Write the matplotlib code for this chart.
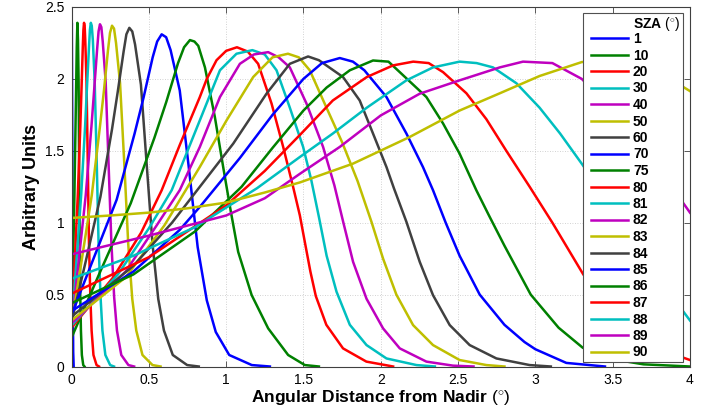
"""Recreate the SZA angular-distance profile chart."""

import matplotlib

matplotlib.use("Agg")
import matplotlib.pyplot as plt
from matplotlib.patches import Rectangle

plt.rcParams["font.family"] = ["Liberation Sans", "DejaVu Sans"]
plt.rcParams["mathtext.fontset"] = "custom"
plt.rcParams["mathtext.rm"] = "Liberation Sans"

SZA_LABELS = ["1", "10", "20", "30", "40", "50", "60", "70", "75", "80",
              "81", "82", "83", "84", "85", "86", "87", "88", "89", "90"]

# curves, x = angular distance, y = arbitrary units
x_sza01 = [0, 0.002, 0.005, 0.008, 0.011, 0.014]
y_sza01 = [2.2, 2.39, 1.6, 0.6, 0.1, 0.0]
x_sza10 = [0, 0.019, 0.030, 0.034, 0.038, 0.042, 0.046, 0.049, 0.053, 0.057, 0.061, 0.067, 0.076, 0.084]
y_sza10 = [0.18, 1.20, 1.94, 2.22, 2.39, 2.27, 1.98, 1.43, 0.86, 0.48, 0.25, 0.08, 0.01, 0.0]
x_sza20 = [0, 0.020, 0.041, 0.057, 0.065, 0.073, 0.077, 0.081, 0.085, 0.089, 0.097, 0.105, 0.113,
           0.122, 0.130, 0.142, 0.162, 0.178]
y_sza20 = [0.22, 0.71, 1.20, 1.67, 1.94, 2.22, 2.34, 2.39, 2.37, 2.27, 1.98, 1.43, 0.86,
           0.48, 0.25, 0.08, 0.01, 0.0]
x_sza30 = [0, 0.031, 0.063, 0.088, 0.100, 0.113, 0.119, 0.125, 0.131, 0.138, 0.150, 0.163, 0.175,
           0.188, 0.200, 0.219, 0.250, 0.275]
y_sza30 = [0.25, 0.72, 1.20, 1.67, 1.94, 2.22, 2.34, 2.39, 2.37, 2.27, 1.98, 1.43, 0.86,
           0.48, 0.25, 0.08, 0.01, 0.0]
x_sza40 = [0, 0.046, 0.092, 0.129, 0.147, 0.166, 0.175, 0.184, 0.193, 0.202, 0.221, 0.239, 0.258,
           0.276, 0.294, 0.322, 0.368, 0.405]
y_sza40 = [0.27, 0.73, 1.19, 1.67, 1.93, 2.21, 2.33, 2.38, 2.36, 2.26, 1.98, 1.43, 0.86,
           0.48, 0.25, 0.08, 0.01, 0.0]
x_sza50 = [0, 0.066, 0.131, 0.183, 0.210, 0.236, 0.249, 0.262, 0.275, 0.288, 0.314, 0.341, 0.367,
           0.393, 0.419, 0.459, 0.524, 0.576]
y_sza50 = [0.29, 0.74, 1.19, 1.66, 1.92, 2.20, 2.32, 2.37, 2.35, 2.25, 1.97, 1.42, 0.85,
           0.47, 0.25, 0.08, 0.01, 0.0]
x_sza60 = [0, 0.094, 0.187, 0.262, 0.299, 0.337, 0.355, 0.374, 0.393, 0.411, 0.449, 0.486, 0.524,
           0.561, 0.598, 0.655, 0.748, 0.823]
y_sza60 = [0.31, 0.74, 1.18, 1.65, 1.91, 2.19, 2.31, 2.355, 2.33, 2.24, 1.96, 1.41, 0.85,
           0.47, 0.25, 0.08, 0.01, 0.0]
x_sza70 = [0, 0.146, 0.292, 0.408, 0.466, 0.525, 0.554, 0.583, 0.612, 0.641, 0.700, 0.758, 0.816,
           0.875, 0.933, 1.020, 1.166, 1.283]
y_sza70 = [0.36, 0.76, 1.16, 1.62, 1.87, 2.15, 2.26, 2.31, 2.29, 2.20, 1.92, 1.39, 0.83,
           0.46, 0.24, 0.08, 0.01, 0.0]
x_sza75 = [0, 0.19, 0.383, 0.536, 0.613, 0.689, 0.728, 0.766, 0.795, 0.82, 0.863, 0.927, 0.981, 1.03,
           1.078, 1.165, 1.272, 1.401, 1.509, 1.6]
y_sza75 = [0.20, 0.67, 1.135, 1.59, 1.84, 2.11, 2.22, 2.27, 2.26, 2.23, 2.08, 1.736, 1.387, 1.08,
           0.797, 0.497, 0.265, 0.08, 0.01, 0.0]
x_sza80 = [0, 0.27, 0.45, 0.583, 0.70, 0.83, 0.875, 0.938, 1.0, 1.07, 1.14, 1.207, 1.294, 1.369, 1.433,
           1.477, 1.51, 1.545, 1.58, 1.648, 1.756, 1.907, 2.08]
y_sza80 = [0.27, 0.62, 0.93, 1.225, 1.54, 1.874, 2.0, 2.13, 2.195, 2.22, 2.19, 2.105, 1.828, 1.527, 1.25,
           1.05, 0.86, 0.66, 0.49, 0.29, 0.126, 0.034, 0.0]
x_sza81 = [0, 0.3, 0.5, 0.648, 0.83, 0.96, 1.067, 1.17, 1.25, 1.326, 1.412, 1.498, 1.55, 1.60, 1.65,
           1.714, 1.8, 1.908, 2.037, 2.231, 2.35]
y_sza81 = [0.285, 0.64, 0.96, 1.226, 1.712, 2.06, 2.175, 2.20, 2.17, 2.06, 1.80, 1.527, 1.30, 1.04, 0.77,
           0.52, 0.29, 0.149, 0.056, 0.01, 0.0]
x_sza82 = [0, 0.35, 0.55, 0.70, 0.83, 0.96, 1.089, 1.18, 1.272, 1.34, 1.412, 1.52, 1.627, 1.70, 1.757,
           1.821, 1.908, 2.015, 2.123, 2.295, 2.467, 2.6]
y_sza82 = [0.30, 0.66, 0.98, 1.226, 1.527, 1.874, 2.105, 2.17, 2.186, 2.15, 2.08, 1.828, 1.527, 1.26,
           1.006, 0.728, 0.471, 0.265, 0.126, 0.034, 0.006, 0.0]
x_sza83 = [0, 0.35, 0.6, 0.83, 1.003, 1.175, 1.30, 1.40, 1.47, 1.541, 1.649, 1.75, 1.85, 1.94, 2.015,
           2.101, 2.209, 2.338, 2.51, 2.683, 2.8]
y_sza83 = [0.32, 0.62, 0.98, 1.388, 1.712, 2.013, 2.15, 2.175, 2.15, 2.06, 1.80, 1.56, 1.29, 1.006, 0.75,
           0.50, 0.288, 0.149, 0.045, 0.01, 0.0]
x_sza84 = [0, 0.4, 0.65, 0.83, 1.046, 1.261, 1.412, 1.53, 1.60, 1.756, 1.864, 1.95, 2.037, 2.085, 2.166,
           2.252, 2.338, 2.446, 2.575, 2.748, 2.963, 3.1]
y_sza84 = [0.346, 0.70, 1.0, 1.25, 1.55, 1.897, 2.105, 2.156, 2.13, 2.013, 1.85, 1.62, 1.387, 1.24, 1.006,
           0.728, 0.496, 0.288, 0.149, 0.056, 0.01, 0.0]
x_sza85 = [0, 0.4, 0.7, 0.83, 1.089, 1.3, 1.5, 1.62, 1.735, 1.82, 1.894, 2.037, 2.166, 2.273, 2.338,
           2.42, 2.51, 2.64, 2.80, 2.93, 3.0, 3.2, 3.45]
y_sza85 = [0.385, 0.66, 0.95, 1.11, 1.45, 1.75, 2.0, 2.11, 2.145, 2.12, 2.06, 1.874, 1.62, 1.387, 1.226,
           1.0, 0.77, 0.5, 0.29, 0.17, 0.12, 0.025, 0.0]
x_sza86 = [0, 0.4, 0.8, 1.1, 1.3, 1.5, 1.65, 1.8, 1.95, 2.05, 2.123, 2.295, 2.403, 2.51, 2.618, 2.70,
           2.80, 2.97, 3.15, 3.307, 3.5, 3.7, 4.0]
y_sza86 = [0.44, 0.64, 0.94, 1.25, 1.52, 1.78, 1.94, 2.06, 2.128, 2.12, 2.047, 1.874, 1.69, 1.48, 1.226,
           1.05, 0.84, 0.5, 0.27, 0.13, 0.05, 0.015, 0.0]
x_sza87 = [0, 0.5, 1.0, 1.25, 1.477, 1.69, 1.91, 2.08, 2.21, 2.31, 2.403, 2.554, 2.683, 2.812, 2.963,
           3.11, 3.31, 3.5, 3.75, 4.0]
y_sza87 = [0.506, 0.76, 1.12, 1.36, 1.61, 1.85, 2.013, 2.094, 2.12, 2.11, 2.047, 1.90, 1.72, 1.50, 1.25,
           1.0, 0.64, 0.37, 0.14, 0.045]
x_sza88 = [0, 0.4, 0.8, 1.2, 1.477, 1.69, 1.91, 2.166, 2.338, 2.51, 2.62, 2.726, 2.877, 3.027, 3.16,
           3.3, 3.5, 3.75, 4.0]
y_sza88 = [0.61, 0.77, 0.97, 1.24, 1.457, 1.62, 1.80, 1.99, 2.08, 2.12, 2.11, 2.08, 1.97, 1.80, 1.62,
           1.41, 1.10, 0.68, 0.32]
x_sza89 = [0, 0.5, 1.0, 1.25, 1.477, 1.735, 2.0, 2.252, 2.51, 2.77, 2.92, 3.11, 3.3, 3.5, 3.75, 4.0]
y_sza89 = [0.78, 0.91, 1.05, 1.17, 1.34, 1.527, 1.746, 1.897, 1.99, 2.08, 2.12, 2.11, 2.0, 1.78, 1.45, 1.07]
x_sza90 = [0, 0.25, 0.5, 0.75, 1.0, 1.25, 1.477, 1.821, 2.187, 2.51, 2.77, 3.027, 3.3, 3.5, 3.75, 4.0]
y_sza90 = [1.033, 1.05, 1.07, 1.10, 1.14, 1.21, 1.28, 1.411, 1.596, 1.78, 1.90, 2.02, 2.117, 2.135, 2.08,
           1.915]

X_TICKS = [0, 0.5, 1, 1.5, 2, 2.5, 3, 3.5, 4]
X_TICK_LABELS = ["0", "0.5", "1", "1.5", "2", "2.5", "3", "3.5", "4"]
Y_TICKS = [0, 0.5, 1, 1.5, 2, 2.5]
Y_TICK_LABELS = ["0", "0.5", "1", "1.5", "2", "2.5"]

# old matlab colour order: b, g, r, c, m, y, k
LINE_COLORS = ["#0000ff", "#008000", "#ff0000", "#00bfbf", "#bf00bf", "#bfbf00", "#404040"]

W, H = 703, 411


def fx(px):
    return px / W


def fy(py):
    return 1 - py / H


def main():
    curves = [
        (x_sza01, y_sza01), (x_sza10, y_sza10), (x_sza20, y_sza20), (x_sza30, y_sza30),
        (x_sza40, y_sza40), (x_sza50, y_sza50), (x_sza60, y_sza60), (x_sza70, y_sza70),
        (x_sza75, y_sza75), (x_sza80, y_sza80), (x_sza81, y_sza81), (x_sza82, y_sza82),
        (x_sza83, y_sza83), (x_sza84, y_sza84), (x_sza85, y_sza85), (x_sza86, y_sza86),
        (x_sza87, y_sza87), (x_sza88, y_sza88), (x_sza89, y_sza89), (x_sza90, y_sza90),
    ]

    fig = plt.figure(figsize=(W / 100, H / 100), dpi=100)
    ax = fig.add_axes([fx(71.5), fy(366.5), fx(690) - fx(71.5), fy(7) - fy(366.5)])

    handles = []
    for i, ((xs, ys), label) in enumerate(zip(curves, SZA_LABELS)):
        (line,) = ax.plot(xs, ys, color=LINE_COLORS[i % len(LINE_COLORS)], linewidth=1.8,
                          solid_joinstyle="round", label=label)
        handles.append(line)

    ax.set_xlim(0, 4)
    ax.set_ylim(0, 2.5)
    ax.set_xticks(X_TICKS, X_TICK_LABELS)
    ax.set_yticks(Y_TICKS, Y_TICK_LABELS)
    ax.set_axisbelow(True)
    ax.grid(True, linestyle=(0, (1, 2)), color="#c4c4c4", linewidth=0.6)
    ax.tick_params(direction="in", top=True, right=True, length=4.5, width=0.6,
                   labelsize=10, pad=5, color="#404040")
    for spine in ax.spines.values():
        spine.set_color("#404040")
        spine.set_linewidth(0.8)

    ax.set_xlabel(r"Angular Distance from Nadir $(^{\circ})$", fontsize=12.5, fontweight="bold", labelpad=1)
    ax.set_ylabel("Arbitrary Units", fontsize=13, fontweight="bold", labelpad=4)

    # legend frame drawn by hand so it can be wider than its entries
    box = Rectangle((fx(583.3), fy(361.7)), fx(683.3) - fx(583.3), fy(13.3) - fy(361.7),
                    transform=fig.transFigure, facecolor="white", edgecolor="#505050",
                    linewidth=0.8, zorder=4, clip_on=False)
    ax.add_patch(box)
    ax.legend(handles, SZA_LABELS, loc="upper left", bbox_to_anchor=(fx(591), fy(32)),
              bbox_transform=fig.transFigure, frameon=False, borderpad=0, borderaxespad=0,
              handlelength=2.66, handletextpad=0.36, labelspacing=0.18,
              prop={"weight": "bold", "size": 10})
    fig.text(fx(633), fy(24), r"SZA $(^{\circ})$", ha="left", va="center",
             fontsize=10, fontweight="bold", zorder=6)

    fig.savefig("out.png", dpi=100)


if __name__ == "__main__":
    main()
